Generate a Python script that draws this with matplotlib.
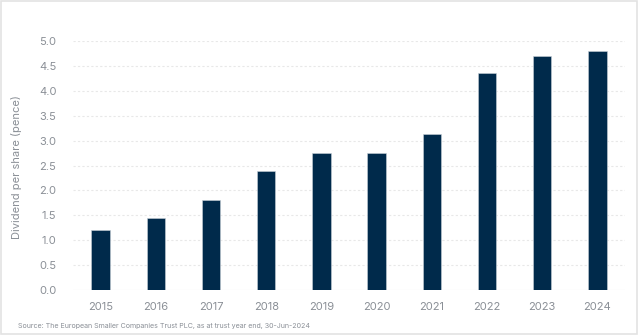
import matplotlib
matplotlib.use('Agg')
import matplotlib.pyplot as plt
from matplotlib.patches import Rectangle

years = ['2015', '2016', '2017', '2018', '2019', '2020', '2021', '2022', '2023', '2024']
dividend = [1.20, 1.45, 1.80, 2.38, 2.75, 2.75, 3.13, 4.35, 4.70, 4.80]
yticks = [0.0, 0.5, 1.0, 1.5, 2.0, 2.5, 3.0, 3.5, 4.0, 4.5, 5.0]

plt.rcParams['font.family'] = ['Inter', 'DejaVu Sans']
grey = '#8a8f96'

fig = plt.figure(figsize=(6.38, 3.35), dpi=100)
fig.patches.append(Rectangle((0.002, 0.003), 0.996, 0.994, transform=fig.transFigure,
                             fill=False, edgecolor='#e3e3e3', linewidth=1.2))
ax = fig.add_axes([73/638, 45/335, 552/638, 249/335])

x = list(range(len(years)))
ax.bar(x, dividend, width=0.33, color='#002a4b', edgecolor='#c8d0d8', linewidth=0.4, zorder=3)

ax.set_xlim(-0.5, len(years) - 0.5)
ax.set_ylim(0, 5.0)
ax.set_xticks(x)
ax.set_xticklabels(years)
ax.set_yticks(yticks)
ax.set_yticklabels(['%.1f' % v for v in yticks])
ax.tick_params(axis='both', length=0, labelsize=8, labelcolor=grey)
ax.tick_params(axis='x', pad=9)
ax.tick_params(axis='y', pad=12)

for v in yticks[1:]:
    ax.axhline(v, color='#e8e8e8', linewidth=0.8, linestyle=(0, (2, 2)), zorder=1)
ax.axhline(0, color='#dcdcdc', linewidth=0.8, zorder=1)
for s in ax.spines.values():
    s.set_visible(False)

fig.text(17/638, 0.5, 'Dividend per share (pence)', rotation=90, ha='center', va='center',
         fontsize=8, color=grey)
fig.text(18/638, 1 - 326/335, 'Source: The European Smaller Companies Trust PLC, as at trust year end, 30-Jun-2024',
         ha='left', va='center', fontsize=5.1, color=grey)

fig.savefig('out.png', dpi=100)
